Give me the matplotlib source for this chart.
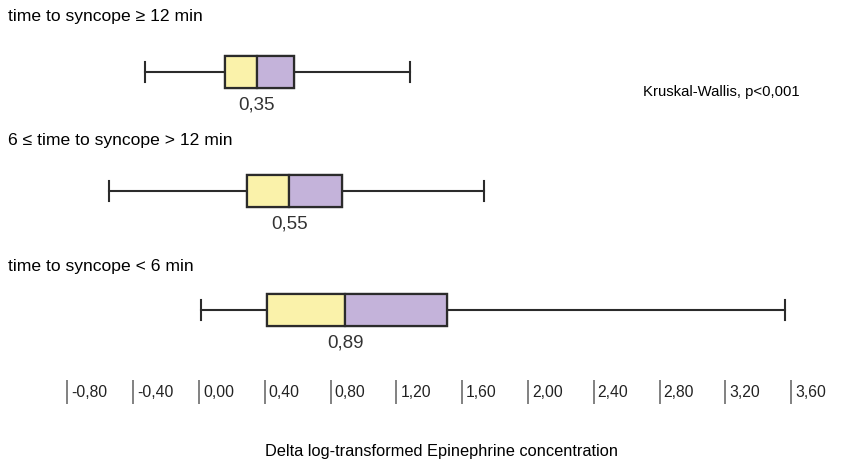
import matplotlib
matplotlib.use("Agg")
import matplotlib.pyplot as plt
import matplotlib.transforms as mtransforms

plt.rcParams['font.family'] = ['Liberation Sans', 'DejaVu Sans']

# ---- data ----
groups = ["time to syncope \u2265 12 min",
          "6 \u2264 time to syncope > 12 min",
          "time to syncope < 6 min"]
whisker_low = [-0.33, -0.55, 0.01]
q1 = [0.16, 0.29, 0.415]
median = [0.35, 0.55, 0.89]
q3 = [0.58, 0.87, 1.51]
whisker_high = [1.28, 1.73, 3.56]
median_labels = ["0,35", "0,55", "0,89"]
tick_values = [-0.80, -0.40, 0.00, 0.40, 0.80, 1.20, 1.60, 2.00, 2.40, 2.80, 3.20, 3.60]
tick_labels = ["-0,80", "-0,40", "0,00", "0,40", "0,80", "1,20", "1,60",
               "2,00", "2,40", "2,80", "3,20", "3,60"]
x_title = "Delta log-transformed Epinephrine concentration"
stat_text = "Kruskal-Wallis, p<0,001"

yellow = "#FAF2AA"
purple = "#C4B3DA"
edge = "#2b2b2b"

W, H = 853, 464
fig = plt.figure(figsize=(W / 100, H / 100), dpi=100)
ax = fig.add_axes([0, 0, 1, 1])
ax.set_xlim(-199 / 164.5, (W - 199) / 164.5)
ax.set_ylim((H - 73) / 119.0, -73 / 119.0)
ax.axis("off")

positions = list(range(len(groups)))
stats = []
for i in positions:
    stats.append(dict(med=median[i], q1=q1[i], q3=q3[i],
                      whislo=whisker_low[i], whishi=whisker_high[i], fliers=[]))

ax.bxp(stats, positions=positions, orientation="horizontal", widths=0.27,
       showfliers=False, manage_ticks=False, patch_artist=True,
       boxprops=dict(facecolor="none", edgecolor=edge, linewidth=1.6),
       whiskerprops=dict(color=edge, linewidth=1.5),
       capprops=dict(color=edge, linewidth=1.5),
       medianprops=dict(color=edge, linewidth=1.6),
       capwidths=0.17)

w_y = [median[i] - q1[i] for i in positions]
w_p = [q3[i] - median[i] for i in positions]
ax.barh(positions, w_y, left=q1, height=0.27, color=yellow,
        edgecolor=edge, linewidth=1.6, zorder=3)
ax.barh(positions, w_p, left=median, height=0.27, color=purple,
        edgecolor=edge, linewidth=1.6, zorder=3)

# group titles (left, above each box) - layout positions in pixels
title_y_px = [17, 140, 266]
for g, ypx in zip(groups, title_y_px):
    fig.text(8 / W, 1 - ypx / H, g, ha="left", va="center",
             fontsize=12.6, color="#000000")

# median labels
for i in positions:
    ax.text(median[i], i + 0.27, median_labels[i], ha="center", va="center",
            fontsize=13.5, color="#333333")

fig.text(721 / W, 1 - 92 / H, stat_text, ha="center", va="center",
         fontsize=10.7, color="#000000")

# custom x axis: tick bar at value with left-aligned label to its right
blend_x = mtransforms.blended_transform_factory(ax.transData, fig.transFigure)
ax.vlines(tick_values, 1 - 405 / H, 1 - 381 / H, transform=blend_x,
          color="#777777", linewidth=1.3)
for v, lab in zip(tick_values, tick_labels):
    ax.text(v + 0.024, 1 - 393 / H, lab, transform=blend_x, ha="left",
            va="center", fontsize=11.3, color="#222222")

fig.text(442 / W, 1 - 452 / H, x_title, ha="center", va="center",
         fontsize=11.8, color="#000000")

fig.savefig("out.png", dpi=100)
